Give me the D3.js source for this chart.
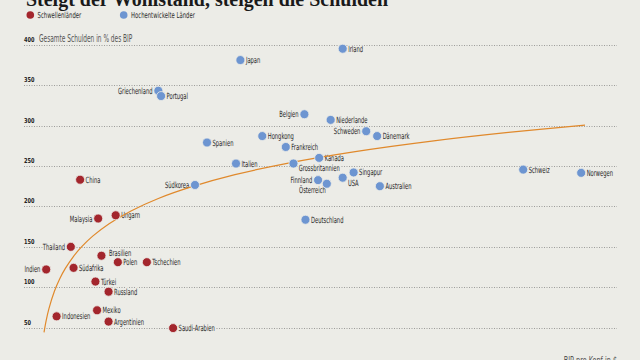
<!DOCTYPE html>
<html><head><meta charset="utf-8">
<script src="https://cdn.jsdelivr.net/npm/d3@7/dist/d3.min.js"></script>
<style>
html,body{margin:0;padding:0;background:#ecece7;}
svg{display:block;}
text{font-family:"DejaVu Sans Condensed","DejaVu Sans",sans-serif;}
</style></head>
<body><svg id="c" width="640" height="360"></svg>
<script>
// ---- data ----
const emergingNames = ["China","Malaysia","Ungarn","Thailand","Brasilien","Polen","Tschechien","Indien","Südafrika","Türkei","Russland","Mexiko","Indonesien","Argentinien","Saudi-Arabien"];
const emergingGdp   = [7700,11000,14200,6000,11600,14600,19900,1500,6500,10500,12900,10800,3400,12900,24700];
const emergingDebt  = [233,185,189,150,139,131,131,122,124,107,94.5,71.5,64,57.5,49.5];

const developedNames = ["Japan","Irland","Griechenland","Portugal","Belgien","Niederlande","Schweden","Dänemark","Hongkong","Spanien","Frankreich","Kanada","Italien","Grossbritannien","Südkorea","Singapur","USA","Finnland","Österreich","Australien","Deutschland","Schweiz","Norwegen"];
const developedGdp   = [37000,55700,22000,22500,48700,53500,60000,62000,41000,30900,45300,51400,36200,46700,28700,57700,55700,51200,52800,62500,48900,88700,99300];
const developedDebt  = [381,395,343,336.5,314,307,293,287,287,279,273.5,260,253,253,226.5,242,235.5,232.5,228,225,183.5,245.5,241.5];

// trend curve
const trendGdp  = [1100,1500,2000,3000,4000,5000,6500,8000,10000,13000,17000,22000,28000,36000,46000,58000,72000,86000,100000];
const trendDebt = [44.3,59,73.5,95,110.8,123.3,138.3,150.2,163.2,178.6,194.4,209.8,224.1,239.2,253.9,267.8,280.8,291.5,300.6];

const yTicks = [50,100,150,200,250,300,350,400];
const legendLabels = ["Schwellenländer","Hochentwickelte Länder"];
const titleText = "Steigt der Wohlstand, steigen die Schulden";
const yTitle = "Gesamte Schulden in % des BIP";
const xTitle = "BIP pro Kopf in $";

// ---- label placement (style) ----
const labelPlace = {
  "Malaysia":"left","Thailand":"left","Indien":"left","Griechenland":"left","Belgien":"left",
  "Schweden":"left","Südkorea":"left","Finnland":"left",
  "Brasilien":"upright","Grossbritannien":"downright","USA":"downright","Österreich":"downleft"
};

const colEm = "#a3262d", colDev = "#6d95d1", bg = "#ecece7";
const svg = d3.select("#c");
const x = d3.scaleLinear().domain([0,100000]).range([38,585]);
const y = d3.scaleLinear().domain([0,400]).range([368.1,44.7]);

// condensed text helper
function ctext(parent, tx, ty, str, o){
  const g = parent.append("g").attr("transform",`translate(${tx},${ty}) scale(${o.sx||0.72},1)`);
  const t = g.append("text").attr("x",0).attr("y",0).attr("text-anchor",o.anchor||"start")
    .style("font-size",o.size+"px").attr("fill",o.fill||"#1f1f1f");
  if(o.dy) t.attr("dy",o.dy);
  if(o.bold) t.style("font-weight","bold");
  if(o.halo) t.attr("stroke",bg).attr("stroke-width",o.halo).attr("paint-order","stroke").attr("stroke-linejoin","round");
  t.text(str);
  return t;
}

// title
svg.append("text").attr("x",26).attr("y",6).attr("textLength",362).attr("lengthAdjust","spacingAndGlyphs")
  .style("font-family","'Liberation Serif','DejaVu Serif',serif").style("font-weight","bold")
  .style("font-size","22px").attr("fill","#1a1a1a").text(titleText);

// legend
const lg = svg.append("g");
[[30.3,colEm,legendLabels[0]],[123.7,colDev,legendLabels[1]]].forEach(([lx,c,t])=>{
  lg.append("circle").attr("cx",lx).attr("cy",15).attr("r",3.8).attr("fill",c);
  ctext(lg, lx+7.3, 15, t, {size:8.3, sx:0.71, dy:"0.35em", fill:"#2a2a2a"});
});

// grid
const grid = svg.append("g");
yTicks.forEach(t=>{
  grid.append("line").attr("x1",24).attr("x2",617).attr("y1",Math.round(y(t))+0.5).attr("y2",Math.round(y(t))+0.5)
    .attr("stroke","#9d9d9a").attr("stroke-width",1).attr("stroke-dasharray","1,1.5");
  ctext(grid, 24, y(t)-3, String(t), {size:6.8, sx:0.82, bold:true, fill:"#222"});
});
ctext(svg, 39, y(400)-2.5, yTitle, {size:10.2, sx:0.64, fill:"#555"});
ctext(svg, 617, 364, xTitle, {size:10, sx:0.72, anchor:"end", fill:"#555"});

// points
const pts = [];
emergingNames.forEach((n,i)=>pts.push({n,g:emergingGdp[i],d:emergingDebt[i],c:colEm}));
developedNames.forEach((n,i)=>pts.push({n,g:developedGdp[i],d:developedDebt[i],c:colDev}));

// labels with halo
const lbl = svg.append("g");
pts.forEach(p=>{
  const px=x(p.g), py=y(p.d), pl=labelPlace[p.n]||"right";
  let tx=px+5.5, ty=py, anchor="start";
  if(pl==="left"){tx=px-5.8; anchor="end";}
  if(pl==="upright"){tx=px+7.5; ty=py-2.7;}
  if(pl==="downright"){tx=px+5.2; ty=py+4.8;}
  if(pl==="downleft"){tx=px-1; ty=py+6.5; anchor="end";}
  ctext(lbl, tx, ty, p.n, {size:8.6, sx:0.67, dy:"0.35em", anchor, halo:3});
});

// trend
const line = d3.line().x((d,i)=>x(trendGdp[i])).y((d,i)=>y(trendDebt[i])).curve(d3.curveCatmullRom);
svg.append("path").attr("d",line(trendGdp)).attr("fill","none").attr("stroke","#e0892c").attr("stroke-width",1.2);

// dots
svg.append("g").selectAll("circle").data(pts).join("circle")
  .attr("cx",d=>x(d.g)).attr("cy",d=>y(d.d)).attr("r",4.5).attr("fill",d=>d.c)
  .attr("stroke",bg).attr("stroke-width",0.8);
</script></body></html>
